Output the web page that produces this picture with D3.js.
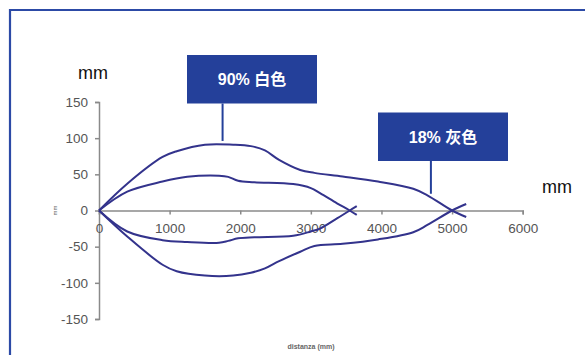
<!DOCTYPE html>
<html>
<head>
<meta charset="utf-8">
<script src="https://cdn.jsdelivr.net/npm/d3@7"></script>
<style>
  body { margin: 0; background: #fff; }
  text { font-family: "Liberation Sans", Arial, "Noto Sans CJK SC", sans-serif; }
  .tick-label { fill: #555; font-size: 13.5px; }
  .callout { fill: #fff; font-size: 16px; font-weight: bold; font-family: "Liberation Sans", Arial, "Noto Sans CJK SC", sans-serif; }
</style>
</head>
<body>
<div id="wrapper"></div>
<script>
'use strict';

//#region DATASET
// 90% white target: outer envelope
const outerDist  = [0, 400, 900, 1100, 1500, 1900, 2150, 2350, 2550, 2850, 3050, 3450, 3950, 4450, 4650, 5000, 5200];
const outerUpper = [0, 37, 74, 82, 91, 91, 89, 83, 70, 56, 52, 47, 40, 30, 21, 0, -9];
const outerLower = [0, -36, -75, -84, -90, -90, -86, -80, -70, -57, -49, -46, -40, -30, -20, 0, 9];

// 18% grey target: inner envelope
const innerDist  = [0, 400, 900, 1250, 1700, 1830, 1970, 2200, 2750, 3000, 3130, 3370, 3550, 3650];
const innerUpper = [0, 26, 40, 46.5, 48, 46.5, 41, 39, 36.5, 31, 24, 10, 0, -6];
const innerLower = [0, -29, -41, -43.5, -44.5, -42, -38.5, -37, -35, -29, -25, -11, 0, 6];

const xTicks = [0, 1000, 2000, 3000, 4000, 5000, 6000];
const yTicks = [-150, -100, -50, 0, 50, 100, 150];

const callouts = [
  { label: '90% 白色', dist: 1750, value: 92 },
  { label: '18% 灰色', dist: 4700, value: 19 }
];
//#endregion DATASET

//#region CHART DIMENSIONS
const dimensions = {
  width: 585,
  height: 355,
  plot: { left: 99, right: 522.7, top: 102, bottom: 319 }
};
//#endregion CHART DIMENSIONS

//#region DRAW CANVAS
const svg = d3.select('#wrapper').append('svg')
  .attr('width', dimensions.width)
  .attr('height', dimensions.height);

// frame
svg.append('path')
  .attr('d', 'M10,360 L10,10 L590,10')
  .attr('fill', 'none')
  .attr('stroke', '#2c4aa6')
  .attr('stroke-width', 2.2);
//#endregion DRAW CANVAS

//#region CREATE SCALES
const xScale = d3.scaleLinear()
  .domain([0, 6000])
  .range([dimensions.plot.left, dimensions.plot.right]);

const yScale = d3.scaleLinear()
  .domain([-150, 150])
  .range([dimensions.plot.bottom, dimensions.plot.top]);
//#endregion CREATE SCALES

//#region DRAW PERIPHERALS
const axisColor = '#8a8a8a';
const plainFormat = d => String(d); // hyphen minus, like the original

const yAxis = svg.append('g')
  .attr('transform', `translate(${xScale(0)},0)`)
  .call(d3.axisLeft(yScale).tickValues(yTicks).tickSize(4).tickSizeOuter(4).tickFormat(plainFormat));
yAxis.select('.domain').attr('stroke', axisColor).attr('stroke-width', 1.5);
yAxis.selectAll('.tick line').attr('stroke', axisColor).attr('stroke-width', 1.5);
yAxis.selectAll('.tick text')
  .attr('class', 'tick-label')
  .attr('x', -11)
  .attr('font-size', null)
  .attr('font-family', null);

const xAxis = svg.append('g')
  .attr('transform', `translate(0,${yScale(0)})`)
  .call(d3.axisBottom(xScale).tickValues(xTicks).tickSize(4).tickSizeOuter(4).tickFormat(plainFormat));
xAxis.select('.domain').attr('stroke', axisColor).attr('stroke-width', 1.5);
xAxis.selectAll('.tick line').attr('stroke', axisColor).attr('stroke-width', 1.5);
xAxis.selectAll('.tick text')
  .attr('class', 'tick-label')
  .attr('y', 18)
  .attr('dy', '0.3em')
  .attr('font-size', null)
  .attr('font-family', null);

svg.append('text')
  .attr('x', 78).attr('y', 79)
  .attr('font-size', 18)
  .attr('fill', '#111')
  .text('mm');

svg.append('text')
  .attr('x', 542).attr('y', 193)
  .attr('font-size', 18)
  .attr('fill', '#111')
  .text('mm');

svg.append('text')
  .attr('transform', `translate(57,${yScale(0)}) rotate(-90)`)
  .attr('text-anchor', 'middle')
  .attr('font-size', 6)
  .attr('fill', '#666')
  .text('mm');

svg.append('text')
  .attr('x', 311).attr('y', 349)
  .attr('text-anchor', 'middle')
  .attr('font-size', 7)
  .attr('font-weight', 'bold')
  .attr('fill', '#666')
  .text('distanza (mm)');
//#endregion DRAW PERIPHERALS

//#region DRAW DATA
const lineColor = '#33338c';
const series = [
  { dist: outerDist, vals: outerUpper },
  { dist: outerDist, vals: outerLower },
  { dist: innerDist, vals: innerUpper },
  { dist: innerDist, vals: innerLower }
];

const lineGenerator = d3.line()
  .x(d => xScale(d[0]))
  .y(d => yScale(d[1]))
  .curve(d3.curveCatmullRom.alpha(0.5));

svg.append('g').selectAll('path')
  .data(series)
  .enter()
  .append('path')
  .attr('d', s => lineGenerator(s.dist.map((x, i) => [x, s.vals[i]])))
  .attr('fill', 'none')
  .attr('stroke', lineColor)
  .attr('stroke-width', 2);
//#endregion DRAW DATA

//#region CALLOUTS
const boxColor = '#24409a';
const boxes = [
  { x0: 187, x1: 317, y0: 55, y1: 103.5 },
  { x0: 378, x1: 508, y0: 112.5, y1: 161 }
];

callouts.forEach((c, i) => {
  const b = boxes[i];
  const lx = xScale(c.dist);
  svg.append('line')
    .attr('x1', lx).attr('x2', lx)
    .attr('y1', b.y1).attr('y2', yScale(c.value) - 3)
    .attr('stroke', boxColor)
    .attr('stroke-width', 2);
  svg.append('rect')
    .attr('x', b.x0).attr('y', b.y0)
    .attr('width', b.x1 - b.x0).attr('height', b.y1 - b.y0)
    .attr('fill', boxColor);
  svg.append('text')
    .attr('class', 'callout')
    .attr('x', (b.x0 + b.x1) / 2)
    .attr('y', (b.y0 + b.y1) / 2)
    .attr('dy', '0.36em')
    .attr('text-anchor', 'middle')
    .text(c.label);
});
//#endregion CALLOUTS
</script>
</body>
</html>
